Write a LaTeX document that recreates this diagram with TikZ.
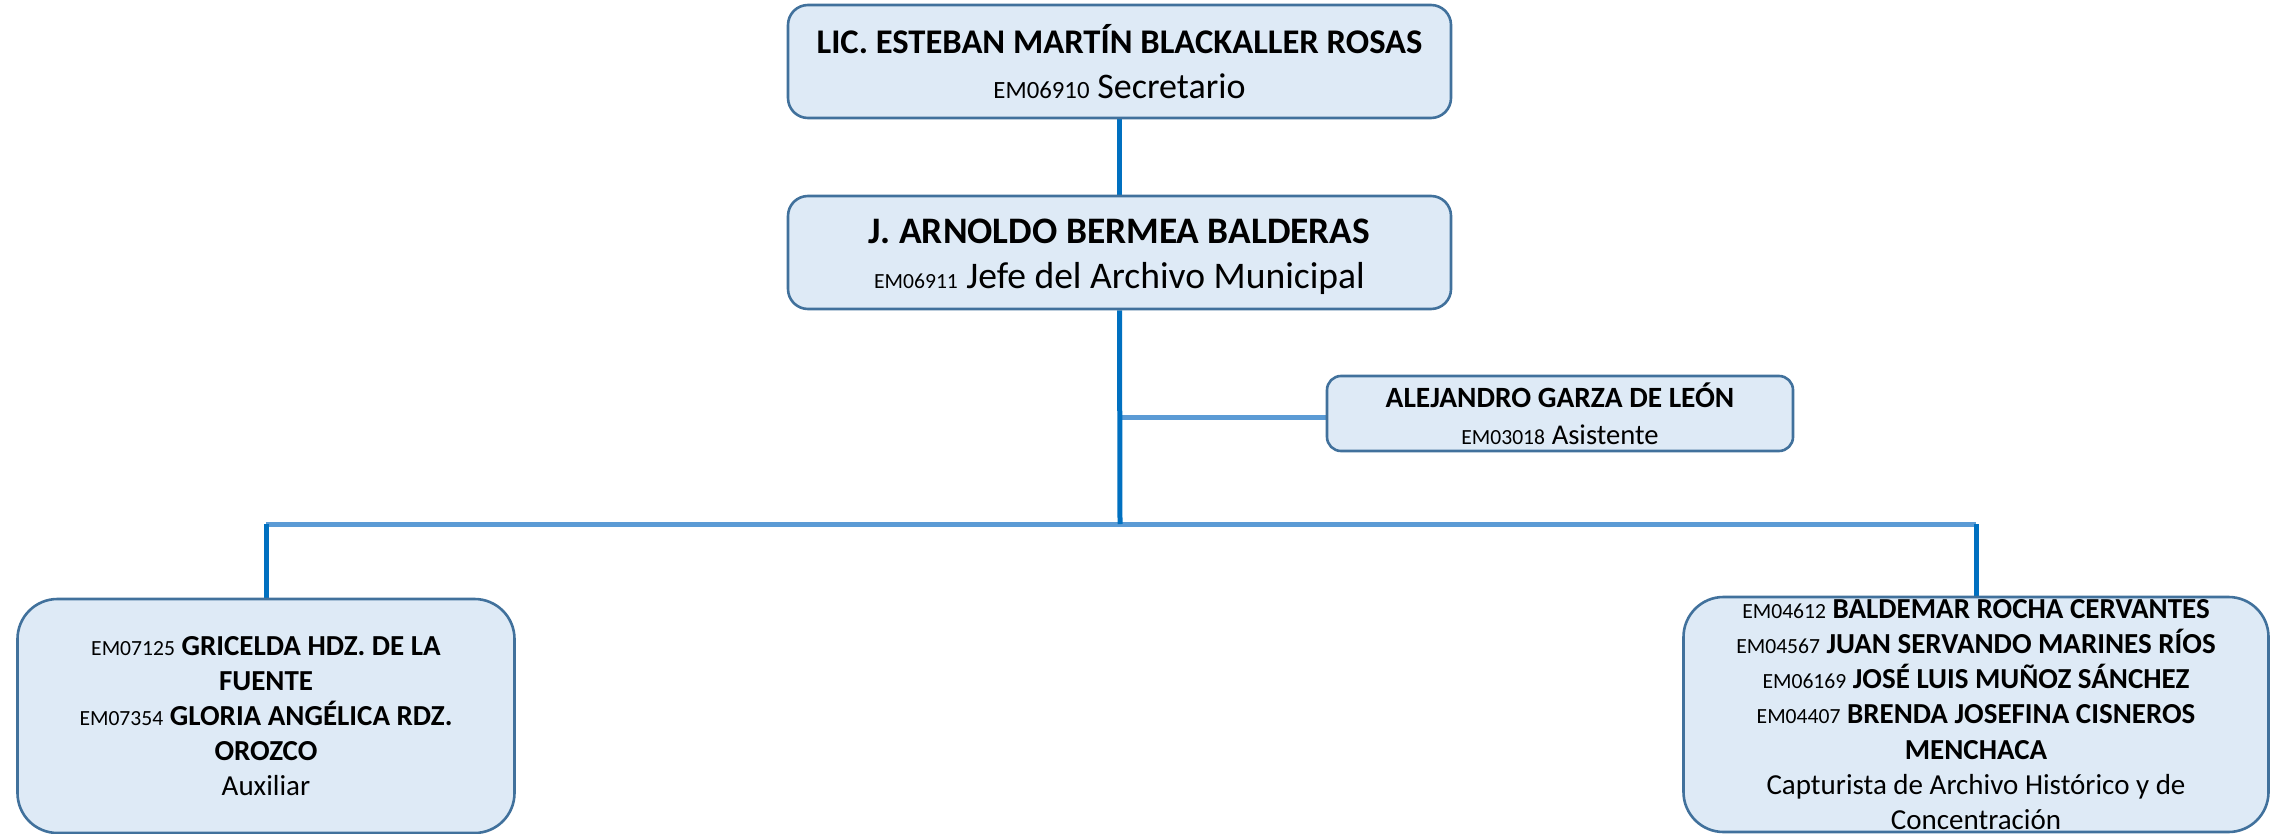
\documentclass[tikz,border=0pt]{standalone}
\usepackage{fontspec}
\setmainfont{Carlito}
\usetikzlibrary{backgrounds}
\definecolor{boxfill}{RGB}{222,234,246}
\definecolor{boxline}{RGB}{65,113,156}
\definecolor{vcol}{RGB}{0,112,192}
\definecolor{hcol}{RGB}{91,155,213}
\newcommand{\fs}[2]{\fontsize{#1}{#2}\selectfont}
\tikzset{
  box/.style={draw=boxline, fill=boxfill, line width=1.3pt, inner sep=0pt, align=center},
  vline/.style={draw=vcol, line width=2.5pt},
  hline/.style={draw=hcol, line width=2.5pt},
}
\begin{document}
\begin{tikzpicture}[x=0.5pt,y=-0.5pt]
\useasboundingbox (0,0) rectangle (2275,834);
\node[box, rounded corners=10pt, minimum width=331.5pt, minimum height=56.5pt, font=\fs{17.3}{22.5}] (b1) at (1119.5,61.5)
  {{\bfseries LIC. ESTEBAN MARTÍN BLACKALLER ROSAS}\\{\fs{12.4}{22.5}EM06910} {\fs{18}{22.5}Secretario}};
\node[box, rounded corners=10pt, minimum width=331.5pt, minimum height=56.5pt, font=\fs{18.7}{22.5}] (b2) at (1119.5,252.5)
  {\rule{0pt}{16.5pt}{\bfseries J. ARNOLDO BERMEA BALDERAS}\\{\fs{10.8}{22.5}EM06911} {\fs{18.8}{22.5}Jefe del Archivo Municipal}};
\node[box, rounded corners=7pt, minimum width=233pt, minimum height=37.5pt, font=\fs{14.7}{18.5}] (b3) at (1560,413.5)
  {{\bfseries ALEJANDRO GARZA DE LEÓN}\\{\fs{10.8}{18.5}EM03018} {\fs{14.3}{18.5}Asistente}};
\node[box, rounded corners=20pt, minimum width=248.5pt, minimum height=117pt, font=\fs{14.5}{17.6}] (b4) at (266,716)
  {{\fs{10.8}{17.6}EM07125} \textbf{GRICELDA HDZ. DE LA}\\\textbf{FUENTE}\\{\fs{10.8}{17.6}EM07354} \textbf{GLORIA ANGÉLICA RDZ.}\\\textbf{OROZCO}\\Auxiliar};
\node[box, rounded corners=20pt, minimum width=292.5pt, minimum height=117.5pt, font=\fs{14.5}{17.6}] (b5) at (1976,714.5)
  {{\fs{10.8}{17.6}EM04612} \textbf{BALDEMAR ROCHA CERVANTES}\\{\fs{10.8}{17.6}EM04567} \textbf{JUAN SERVANDO MARINES RÍOS}\\{\fs{10.8}{17.6}EM06169} \textbf{JOSÉ LUIS MUÑOZ SÁNCHEZ}\\{\fs{10.8}{17.6}EM04407} \textbf{BRENDA JOSEFINA CISNEROS}\\\textbf{MENCHACA}\\Capturista de Archivo Histórico y de\\Concentración};
\coordinate (busC) at (1120,524);
\coordinate (busL) at (266,524);
\coordinate (busR) at (1976,524);
\coordinate (asst) at (1120,417);
\begin{scope}[on background layer]
\draw[vline] (b1.south) -- (b2.north);
\draw[hline] (asst) -- (asst -| b3.west);
\draw[hline] (busL) -- (busR);
\draw[vline] (b2.south) -- (busC);
\draw[vline] (busL) -- (b4.north);
\draw[vline] (busR) -- (b5.north);
\end{scope}
\end{tikzpicture}
\end{document}
